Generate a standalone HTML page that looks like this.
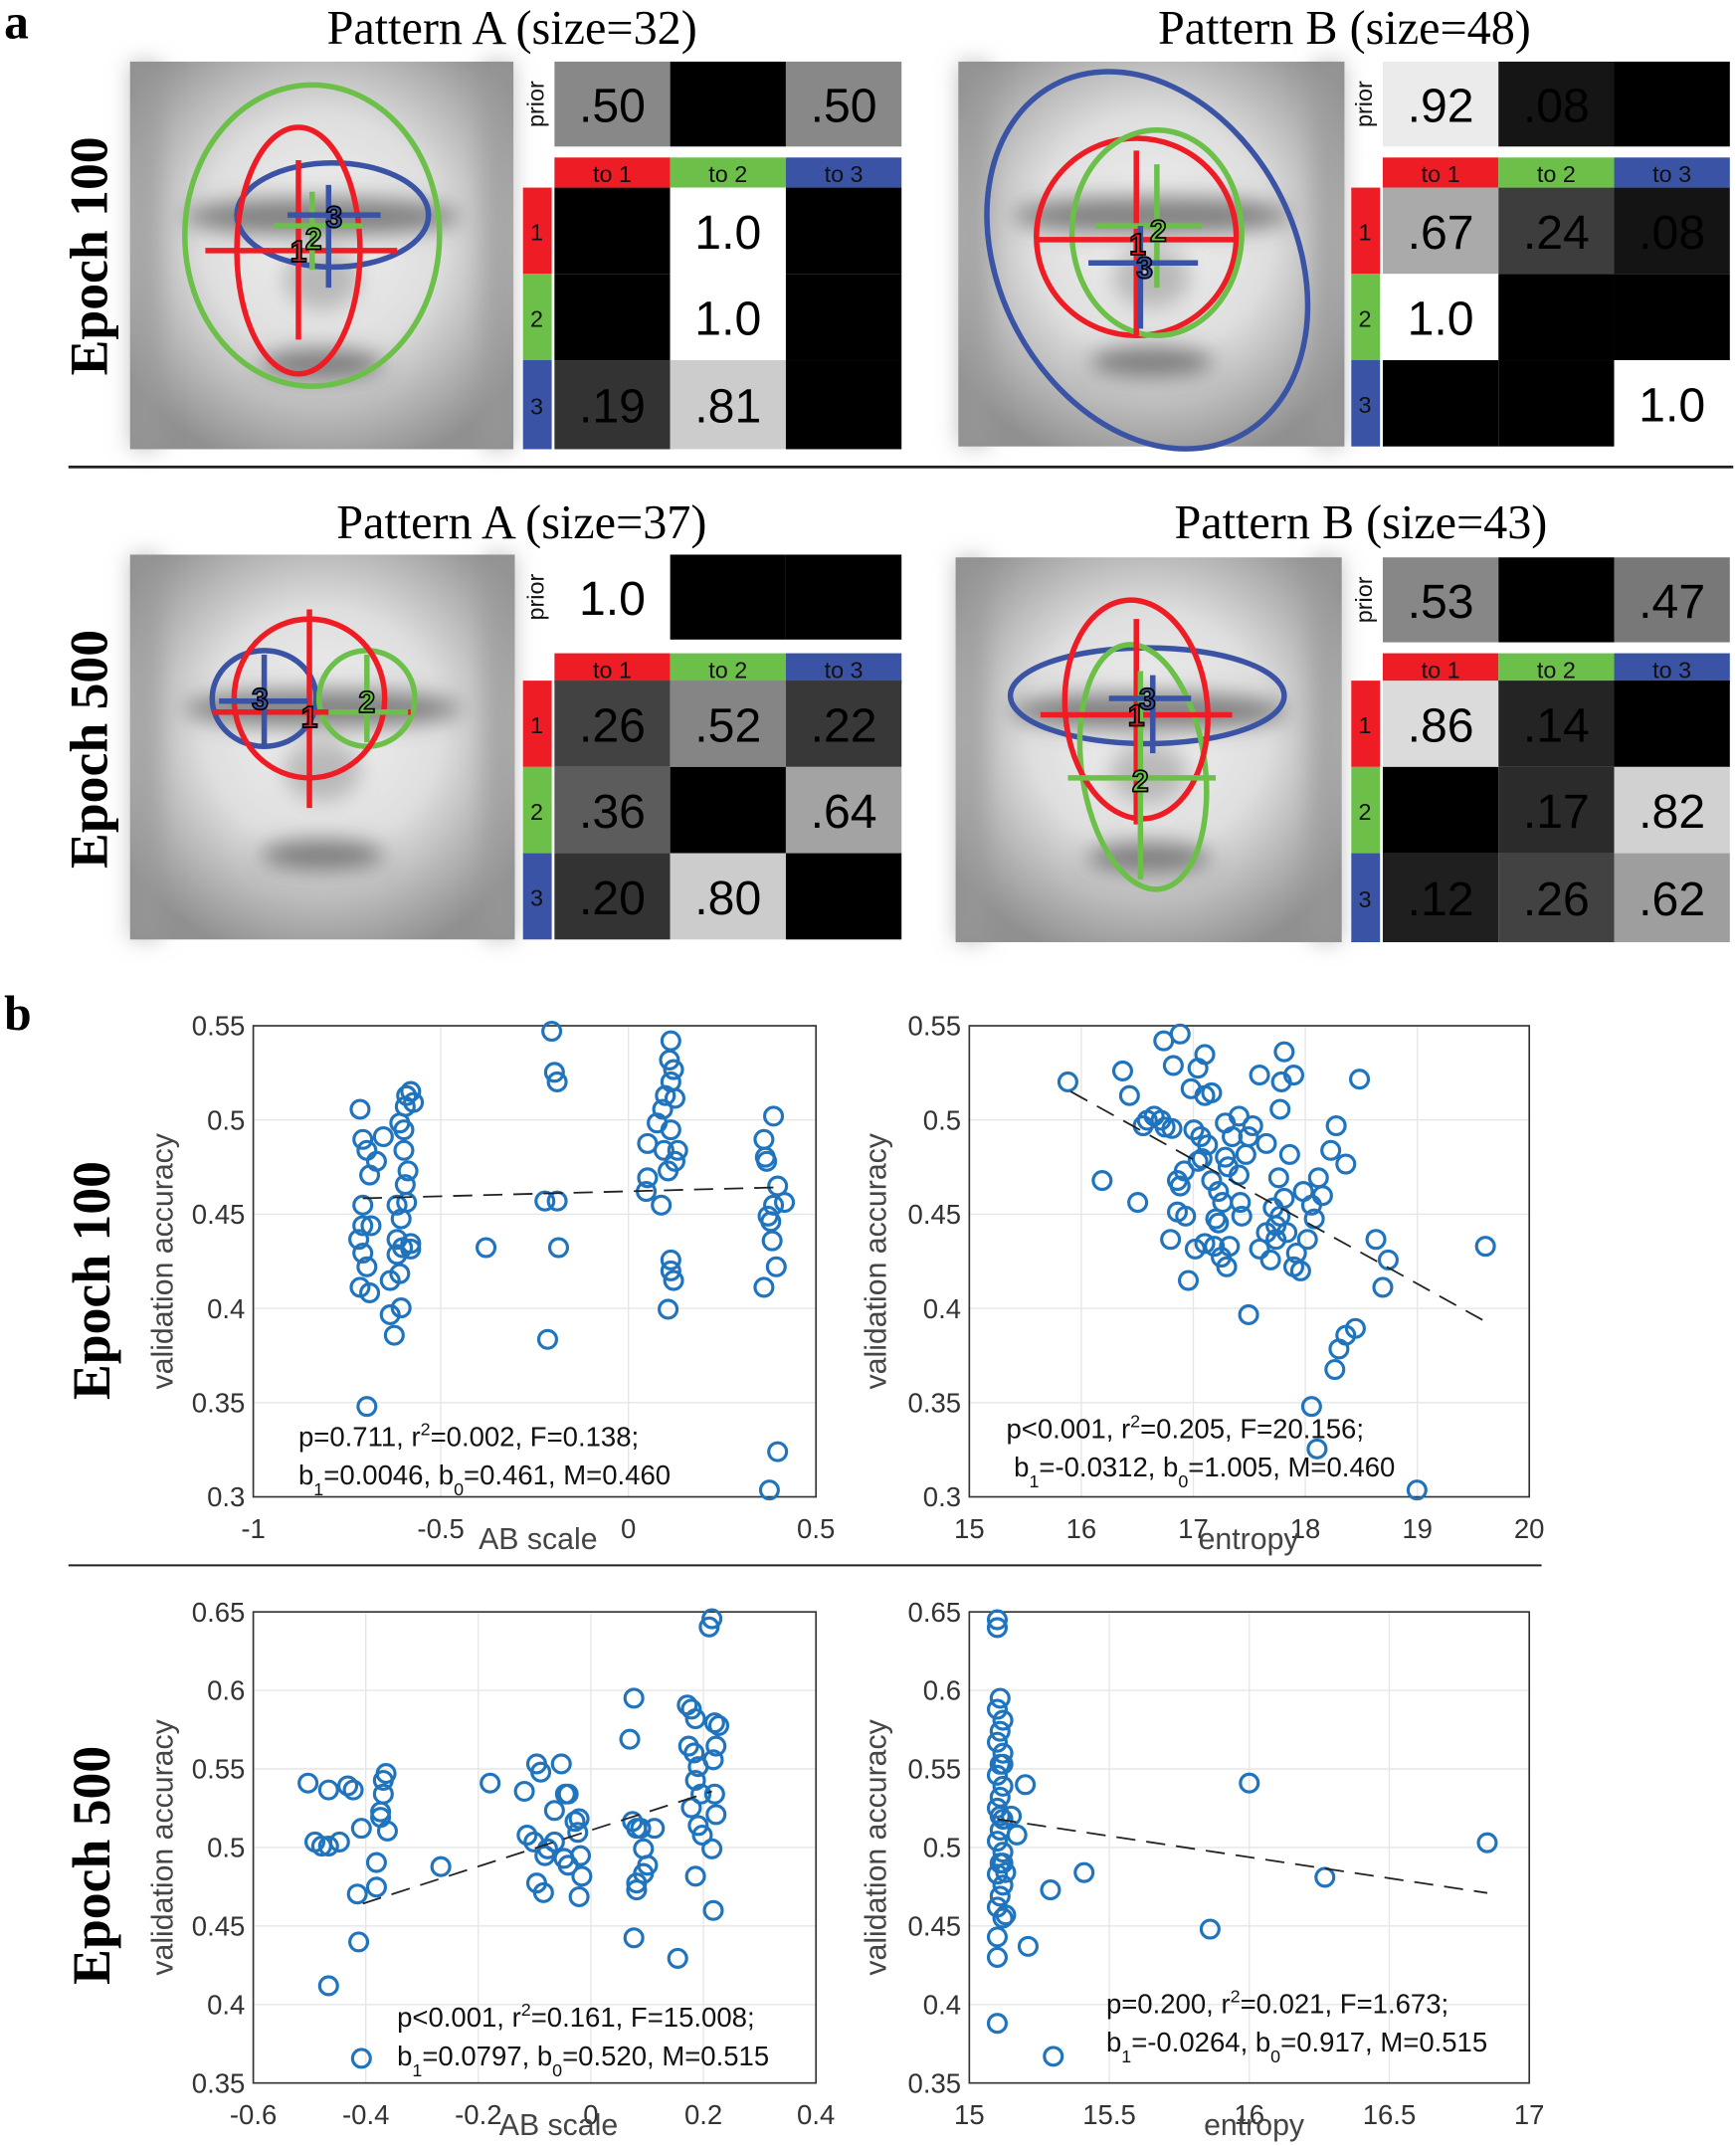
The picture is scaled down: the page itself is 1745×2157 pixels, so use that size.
<!DOCTYPE html>
<html><head><meta charset="utf-8"><style>
html,body{margin:0;padding:0;background:#fff;}
svg{display:block;}
.serif{font-family:"Liberation Serif",serif;}
.sans{font-family:"Liberation Sans",sans-serif;}
</style></head><body>
<svg id="s" width="1745" height="2157" viewBox="0 0 1268 1567" preserveAspectRatio="none" xmlns="http://www.w3.org/2000/svg">
<defs>
<radialGradient id="fg" cx="50%" cy="45%" r="62%">
<stop offset="0" stop-color="#f2f2f2"/><stop offset="0.5" stop-color="#dedede"/><stop offset="1" stop-color="#909090"/>
</radialGradient>
<filter id="bl" x="-50%" y="-50%" width="200%" height="200%"><feGaussianBlur stdDeviation="8"/></filter>
</defs>
<rect width="1268" height="1567" fill="#fff"/>
<g id="g"></g>
<text x="3" y="28" class="serif" font-size="36" font-weight="bold">a</text>
<text x="3" y="752" class="serif" font-size="36" font-weight="bold">b</text>
<text x="374" y="32" class="serif" font-size="35" text-anchor="middle">Pattern A (size=32)</text>
<text x="982" y="32" class="serif" font-size="35" text-anchor="middle">Pattern B (size=48)</text>
<text x="381" y="393" class="serif" font-size="35" text-anchor="middle">Pattern A (size=37)</text>
<text x="994" y="393" class="serif" font-size="35" text-anchor="middle">Pattern B (size=43)</text>
<text transform="translate(78,187) rotate(-90)" class="serif" font-size="39" font-weight="bold" text-anchor="middle">Epoch 100</text>
<text transform="translate(78,547) rotate(-90)" class="serif" font-size="39" font-weight="bold" text-anchor="middle">Epoch 500</text>
<text transform="translate(80,935) rotate(-90)" class="serif" font-size="39" font-weight="bold" text-anchor="middle">Epoch 100</text>
<text transform="translate(80,1362) rotate(-90)" class="serif" font-size="39" font-weight="bold" text-anchor="middle">Epoch 500</text>
<line x1="50" y1="341" x2="1266" y2="341" stroke="#222" stroke-width="2"/>
<line x1="50" y1="1143" x2="1126" y2="1143" stroke="#222" stroke-width="1.5"/>
</svg>
<script>
const NS="http://www.w3.org/2000/svg";
const G=document.getElementById('g');
function el(t,a,txt,parent){const e=document.createElementNS(NS,t);for(const k in a)e.setAttribute(k,a[k]);if(txt!==undefined)e.textContent=txt;(parent||G).appendChild(e);return e;}
const R="#ee1c24",GR="#6cc04a",B="#3a53a4";
function face(x,y,w,h){
 el('rect',{x:x,y:y,width:w,height:h,fill:'url(#fg)'});
 const g=el('g',{filter:'url(#bl)'});
 el('ellipse',{cx:x+w*0.5,cy:y+h*0.4,rx:w*0.36,ry:h*0.05,fill:'#555','fill-opacity':0.7},undefined,g);
 el('ellipse',{cx:x+w*0.5,cy:y+h*0.56,rx:w*0.1,ry:h*0.08,fill:'#888','fill-opacity':0.5},undefined,g);
 el('ellipse',{cx:x+w*0.5,cy:y+h*0.78,rx:w*0.16,ry:h*0.04,fill:'#555','fill-opacity':0.7},undefined,g);
 el('rect',{x:x,y:y,width:w*0.08,height:h,fill:'#999','fill-opacity':0.6},undefined,g);
 el('rect',{x:x+w*0.92,y:y,width:w*0.08,height:h,fill:'#999','fill-opacity':0.6},undefined,g);
}
face(95,45,280,283);face(700,45,282,281);face(95,405,281,281);face(698,407,282,281);
function ell(cx,cy,rx,ry,c,rot){el('ellipse',{cx,cy,rx,ry,fill:'none',stroke:c,'stroke-width':4,transform:rot?`rotate(${rot} ${cx} ${cy})`:''});}
function ln(x1,y1,x2,y2,c,w){el('line',{x1,y1,x2,y2,stroke:c,'stroke-width':w||4});}
function lab(x,y,t,c){el('text',{x,y,'font-size':22,'font-weight':'bold','text-anchor':'middle',fill:c,stroke:'#000','stroke-width':1.2,class:'sans'},t);}
ell(228,172,93,110,GR);ell(243,157,70,38,B);ell(218,183,45,90,R);
ln(150,183,290,183,R);ln(218,117,218,248,R);ln(200,165,265,165,GR);ln(228,140,228,197,GR);ln(210,157,278,157,B);ln(240,135,240,210,B);
lab(244,166,'3',B);lab(229,182,'2',GR);lab(218,191,'1',R);
ell(838,190,108,145,B,-28);ell(830,173,73,72,R);ell(845,170,62,75,GR);
ln(758,175,903,175,R);ln(830,110,830,245,R);ln(800,165,878,165,GR);ln(845,120,845,210,GR);ln(795,192,875,192,B);ln(833,165,833,240,B);
lab(836,203,'3',B);lab(846,176,'2',GR);lab(831,186,'1',R);
ell(193,510,38,35,B);ell(268,510,35,35,GR);ell(226,510,55,58,R);
ln(155,520,300,520,R);ln(226,445,226,590,R);ln(240,520,298,520,GR);ln(268,478,268,542,GR);ln(160,512,225,512,B);ln(193,478,193,545,B);
lab(190,518,'3',B);lab(226,531,'1',R);lab(268,520,'2',GR);
ell(838,508,100,35,B);ell(835,560,45,90,GR,-8);ell(830,518,52,80,R,-5);
ln(760,522,900,522,R);ln(830,452,830,602,R);ln(780,568,888,568,GR);ln(833,490,833,642,GR);ln(810,510,870,510,B);ln(842,493,842,550,B);
lab(838,518,'3',B);lab(830,530,'1',R);lab(833,578,'2',GR);
function mat(x,y,py,hy,rows,prior,pc,cells,cc){
 const cw=84.5;
 el('text',{transform:`translate(${x+17},${py+31}) rotate(-90)`,'font-size':17,'text-anchor':'middle',class:'sans',fill:'#111'},'prior');
 for(let i=0;i<3;i++){el('rect',{x:x+25+i*cw,y:py,width:cw,height:62,fill:pc[i]});if(prior[i])el('text',{x:x+25+i*cw+cw/2,y:py+44,'font-size':35,'text-anchor':'middle',class:'sans',fill:'#000'},prior[i]);}
 const hc=[R,GR,B];
 for(let i=0;i<3;i++){el('rect',{x:x+25+i*cw,y:hy,width:cw,height:22,fill:hc[i]});el('text',{x:x+25+i*cw+cw/2,y:hy+18,'font-size':17,'text-anchor':'middle',class:'sans',fill:'#111'},'to '+(i+1));}
 for(let r=0;r<3;r++){const ry=rows[r],rh=rows[r+1]-rows[r];
  el('rect',{x:x+2,y:ry,width:21,height:rh,fill:hc[r]});el('text',{x:x+12,y:ry+rh/2+7,'font-size':17,'text-anchor':'middle',class:'sans',fill:'#111'},String(r+1));
  for(let c=0;c<3;c++){el('rect',{x:x+25+c*cw,y:ry,width:cw,height:rh,fill:cc[r][c]});const t=cells[r][c];if(t)el('text',{x:x+25+c*cw+cw/2,y:ry+rh/2+13,'font-size':35,'text-anchor':'middle',class:'sans',fill:'#000'},t);}
 }
}
const K='#000';
mat(380,0,45,115,[137,200,263,328],['.50','','.50'],['#888',K,'#888'],[['','1.0',''],['','1.0',''],['.19','.81','']],[[K,'#fff',K],[K,'#fff',K],['#333','#ccc',K]]);
mat(985,0,45,115,[137,200,263,326],['.92','.08',''],['#ebebeb','#151515',K],[['.67','.24','.08'],['1.0','',''],['','','1.0']],[['#aaa','#3d3d3d','#141414'],['#fff',K,K],[K,K,'#fff']]);
mat(380,0,405,477,[497,560,623,686],['1.0','',''],['#fff',K,K],[['.26','.52','.22'],['.36','','.64'],['.20','.80','']],[['#424242','#858585','#383838'],['#5c5c5c',K,'#a3a3a3'],['#333','#ccc',K]]);
mat(985,0,407,477,[497,560,623,688],['.53','','.47'],['#878787',K,'#787878'],[['.86','.14',''],['','.17','.82'],['.12','.26','.62']],[['#dbdbdb','#242424',K],[K,'#2b2b2b','#d1d1d1'],['#1f1f1f','#424242','#9e9e9e']]);
function plot(o){
 const {x0,x1,y0,y1,xt,yt,xl,yl,pts,line,t1,t2,tx,ylx,xlab,xlabx}=o;
 const X=v=>x0+(v-xl[0])/(xl[1]-xl[0])*(x1-x0), Y=v=>y1-(v-yl[0])/(yl[1]-yl[0])*(y1-y0);
 xt.forEach(v=>{el('line',{x1:X(v),y1:y0,x2:X(v),y2:y1,stroke:'#e6e6e6','stroke-width':1});el('text',{x:X(v),y:y1+30,'font-size':20,'text-anchor':'middle',class:'sans',fill:'#333'},String(v));});
 yt.forEach(v=>{el('line',{x1:x0,y1:Y(v),x2:x1,y2:Y(v),stroke:'#e6e6e6','stroke-width':1});el('text',{x:x0-6,y:Y(v)+7,'font-size':20,'text-anchor':'end',class:'sans',fill:'#333'},String(v));});
 el('rect',{x:x0,y:y0,width:x1-x0,height:y1-y0,fill:'none',stroke:'#333','stroke-width':1.2});
 el('text',{transform:`translate(${ylx},${(y0+y1)/2}) rotate(-90)`,'font-size':22,'text-anchor':'middle',class:'sans',fill:'#444'},'validation accuracy');
 el('text',{x:xlabx,y:y1+38,'font-size':22,'text-anchor':'middle',class:'sans',fill:'#444'},xlab);
 pts.forEach(p=>el('circle',{cx:p[0],cy:p[1],r:6.5,fill:'none',stroke:'#1f74bd','stroke-width':2.3}));
 el('line',{x1:line[0],y1:line[1],x2:line[2],y2:line[3],stroke:'#222','stroke-width':1.3,'stroke-dasharray':'14 8'});
 const a=el('text',{x:tx,y:t1[0],'font-size':20,class:'sans',fill:'#111'});a.innerHTML=t1[1];
 const b=el('text',{x:tx,y:t2[0],'font-size':20,class:'sans',fill:'#111'});b.innerHTML=t2[1];
}
const P1=[[263,810],[265,832],[268,840],[270,858],[265,880],[265,895],[262,905],[265,915],[268,925],[263,940],[270,944],[275,848],[280,830],[285,960],[288,975],[285,935],[292,820],[295,840],[290,880],[293,890],[296,865],[298,855],[292,930],[290,916],[294,911],[300,912],[295,825],[297,800],[296,808],[300,797],[302,805],[293,955],[268,1027],[290,905],[297,878],[271,895],[300,908],
[355,911],[403,753],[405,783],[407,790],[398,877],[407,877],[408,911],[400,978],
[473,835],[473,860],[472,870],[480,820],[486,800],[484,810],[485,840],[483,880],[490,760],[489,774],[492,781],[490,790],[493,802],[488,855],[490,825],[495,840],[493,848],[492,935],[490,920],[490,928],[488,956],
[558,832],[559,845],[565,815],[560,848],[568,866],[563,892],[565,880],[561,888],[573,878],[564,906],[567,925],[558,940],[568,1060],[562,1088]];
plot({x0:185,x1:596,y0:749,y1:1093,xt:[-1,-0.5,0,0.5],yt:[0.3,0.35,0.4,0.45,0.5,0.55],xl:[-1,0.5],yl:[0.3,0.55],pts:P1,line:[265,875,568,867],
 t1:[1056,'p=0.711, r<tspan dy="-8" font-size="13">2</tspan><tspan dy="8">=0.002, F=0.138;</tspan>'],t2:[1084,'b<tspan dy="8" font-size="13">1</tspan><tspan dy="-8">=0.0046, b</tspan><tspan dy="8" font-size="13">0</tspan><tspan dy="-8">=0.461, M=0.460</tspan>'],tx:218,ylx:126,xlab:'AB scale',xlabx:393});
const P2=[[780,790],[805,862],[820,782],[831,878],[835,822],[838,818],[843,815],[848,818],[851,823],[856,824],[857,778],[860,862],[862,755],[865,855],[866,888],[862,866],[872,825],[875,848],[877,830],[880,770],[885,798],[880,908],[855,905],[860,885],[868,935],[873,912],[878,846],[882,836],[885,862],[888,890],[890,870],[893,878],[895,845],[897,852],[890,893],[887,910],[892,918],[896,925],[898,910],[880,800],[900,830],[905,858],[906,878],[907,888],[910,843],[912,830],[915,822],[912,960],[920,912],[925,835],[928,920],[932,905],[935,888],[938,875],[932,895],[934,860],[936,790],[938,768],[935,810],[940,900],[930,882],[925,900],[942,843],[945,925],[947,915],[950,928],[955,905],[958,880],[960,890],[952,870],[966,873],[945,785],[972,840],[963,860],[976,822],[983,850],[958,1027],[962,1058],[975,1000],[978,985],[983,975],[990,970],[993,788],[1005,905],[1010,940],[1014,920],[1035,1088],[1085,910],[825,800],[850,760],[870,795],[875,780],[895,820],[905,815],[920,785]];
plot({x0:708,x1:1117,y0:749,y1:1093,xt:[15,16,17,18,19,20],yt:[0.3,0.35,0.4,0.45,0.5,0.55],xl:[15,20],yl:[0.3,0.55],pts:P2,line:[782,797,1085,965],
 t1:[1050,'p&lt;0.001, r<tspan dy="-8" font-size="13">2</tspan><tspan dy="8">=0.205, F=20.156;</tspan>'],t2:[1078,'&#160;b<tspan dy="8" font-size="13">1</tspan><tspan dy="-8">=-0.0312, b</tspan><tspan dy="8" font-size="13">0</tspan><tspan dy="-8">=1.005, M=0.460</tspan>'],tx:735,ylx:647,xlab:'entropy',xlabx:912});
const P3=[[225,1302],[240,1307],[254,1304],[230,1345],[235,1348],[240,1348],[248,1345],[258,1307],[261,1383],[264,1335],[262,1418],[240,1450],[264,1503],[280,1300],[282,1295],[280,1310],[278,1323],[278,1327],[283,1337],[275,1360],[275,1378],[322,1363],[358,1302],[383,1308],[392,1288],[395,1294],[385,1340],[390,1345],[392,1375],[397,1382],[398,1355],[400,1350],[405,1345],[405,1322],[410,1288],[413,1310],[415,1310],[420,1330],[412,1357],[415,1362],[422,1338],[423,1328],[424,1355],[425,1370],[423,1385],[460,1270],[463,1240],[462,1330],[465,1335],[468,1335],[470,1350],[465,1375],[470,1368],[473,1362],[465,1380],[478,1335],[463,1415],[495,1430],[502,1245],[505,1248],[508,1255],[503,1275],[507,1280],[510,1290],[508,1300],[512,1310],[505,1320],[510,1333],[513,1340],[520,1182],[518,1188],[522,1258],[525,1260],[523,1275],[521,1285],[522,1310],[523,1325],[520,1350],[508,1370],[521,1395]];
plot({x0:185,x1:596,y0:1177,y1:1521,xt:[-0.6,-0.4,-0.2,0,0.2,0.4],yt:[0.35,0.4,0.45,0.5,0.55,0.6,0.65],xl:[-0.6,0.4],yl:[0.35,0.65],pts:P3,line:[265,1390,520,1308],
 t1:[1480,'p&lt;0.001, r<tspan dy="-8" font-size="13">2</tspan><tspan dy="8">=0.161, F=15.008;</tspan>'],t2:[1508,'b<tspan dy="8" font-size="13">1</tspan><tspan dy="-8">=0.0797, b</tspan><tspan dy="8" font-size="13">0</tspan><tspan dy="-8">=0.520, M=0.515</tspan>'],tx:290,ylx:126,xlab:'AB scale',xlabx:408});
const X4=v=>708+(v-15)/2*409, Y4=v=>1521-(v-0.35)/0.3*344;
const p4=[[15.12,0.553],[15.2,0.54],[15.15,0.52],[15.17,0.508],[15.13,0.484],[15.13,0.457],[15.21,0.437],[15.29,0.473],[15.41,0.484],[15.3,0.367],[15.86,0.448],[16.0,0.541],[16.27,0.481],[16.85,0.503],[15.1,0.388],[15.1,0.43],[15.1,0.443],[15.1,0.64],[15.1,0.645],[15.11,0.52],[15.12,0.49]];
for(let v=0.455;v<=0.6;v+=0.007)p4.push([15.1+(Math.round(v*1000)%3)*0.01,v]);
plot({x0:708,x1:1117,y0:1177,y1:1521,xt:[15,15.5,16,16.5,17],yt:[0.35,0.4,0.45,0.5,0.55,0.6,0.65],xl:[15,17],yl:[0.35,0.65],pts:p4.map(p=>[X4(p[0]),Y4(p[1])]),line:[X4(15.1),Y4(0.518),X4(16.85),Y4(0.471)],
 t1:[1470,'p=0.200, r<tspan dy="-8" font-size="13">2</tspan><tspan dy="8">=0.021, F=1.673;</tspan>'],t2:[1498,'b<tspan dy="8" font-size="13">1</tspan><tspan dy="-8">=-0.0264, b</tspan><tspan dy="8" font-size="13">0</tspan><tspan dy="-8">=0.917, M=0.515</tspan>'],tx:808,ylx:647,xlab:'entropy',xlabx:916});
</script>
</body></html>
